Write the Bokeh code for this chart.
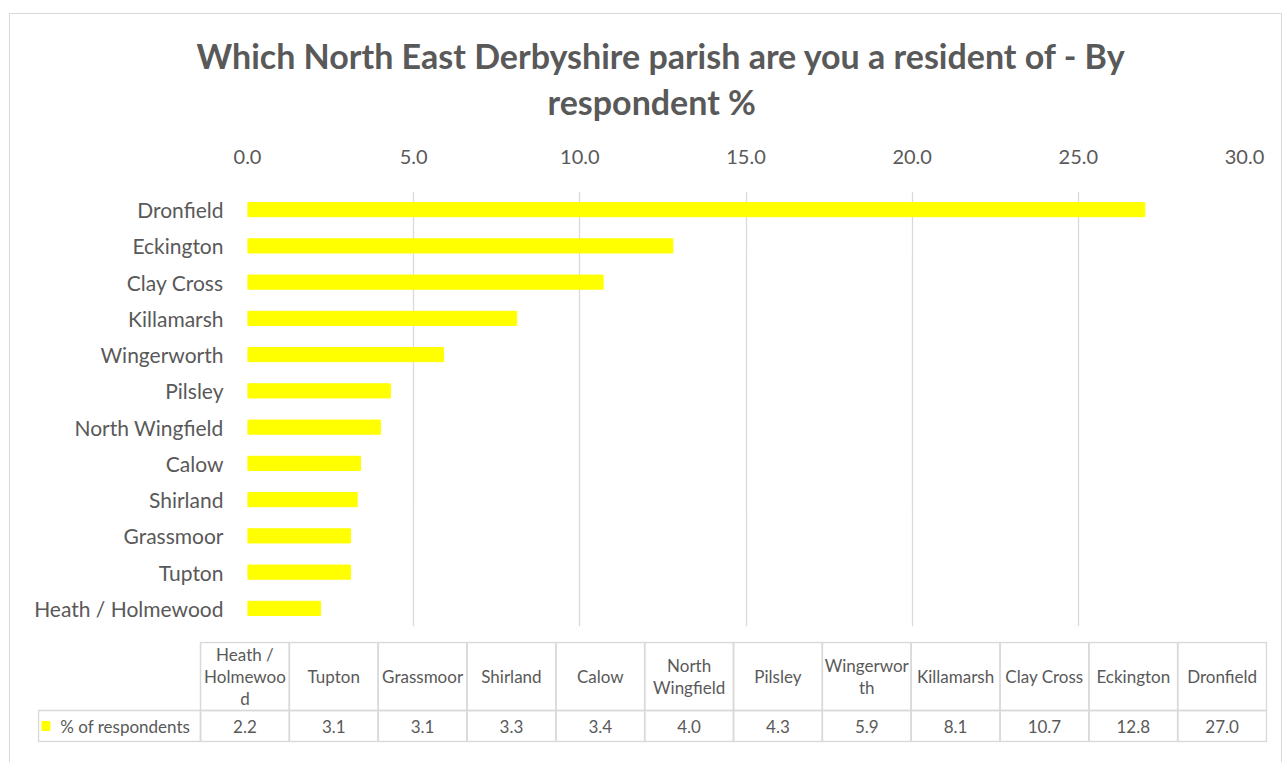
from bokeh.plotting import figure
from bokeh.models import FactorRange, Range1d, FixedTicker, NumeralTickFormatter, Title, ColumnDataSource
from bokeh.embed import file_html
from bokeh.resources import INLINE
from bokeh.core.properties import value

# ---- data ----
parishes = ["Heath / Holmewood", "Tupton", "Grassmoor", "Shirland", "Calow",
            "North Wingfield", "Pilsley", "Wingerworth", "Killamarsh",
            "Clay Cross", "Eckington", "Dronfield"]
pct = [2.2, 3.1, 3.1, 3.3, 3.4, 4.0, 4.3, 5.9, 8.1, 10.7, 12.8, 27.0]
table_headers = ["Heath /\nHolmewoo\nd", "Tupton", "Grassmoor", "Shirland", "Calow",
                 "North\nWingfield", "Pilsley", "Wingerwor\nth", "Killamarsh",
                 "Clay Cross", "Eckington", "Dronfield"]
series_name = "% of respondents"
x_ticks = [0, 5, 10, 15, 20, 25, 30]
title_line1 = "Which North East Derbyshire parish are you a resident of - By"
title_line2 = "respondent %"

FONT = "Lato"
GREY = "#595959"
GRID = "#d9d9d9"
YELLOW = "#FFFF00"
BORDER = "1px solid #d9d9d9"

# ---- main bar chart ----
p = figure(width=1273, height=617, y_range=FactorRange(*parishes),
           x_range=Range1d(0, 30), x_axis_location="above",
           output_backend="svg", toolbar_location=None,
           min_border_left=237, min_border_right=39,
           min_border_top=177, min_border_bottom=5,
           margin=(13, 0, 0, 9),
           styles={"border-top": BORDER, "border-left": BORDER,
                   "border-right": BORDER})
p.outline_line_color = None
p.background_fill_color = "white"
p.border_fill_color = "white"

p.hbar(y=parishes, right=pct, height=0.39, left=0, color=YELLOW)

p.xaxis.ticker = FixedTicker(ticks=x_ticks)
p.xaxis.formatter = NumeralTickFormatter(format="0.0")
for ax in (p.xaxis, p.yaxis):
    ax.axis_line_color = None
    ax.major_tick_line_color = None
    ax.minor_tick_line_color = None
    ax.major_label_text_color = GREY
    ax.major_label_text_font = FONT
p.xaxis.major_label_text_font_size = "20px"
p.yaxis.major_label_text_font_size = "21px"
p.xaxis.major_label_standoff = 22
p.yaxis.major_label_standoff = 18
p.xgrid.grid_line_color = GRID
p.xgrid.grid_line_width = 1.3
p.ygrid.grid_line_color = None

t2 = Title(text=title_line2, align="left", offset=300, text_font=FONT,
           text_font_size="34px", text_font_style="bold", text_color=GREY,
           standoff=50)
t1 = Title(text=title_line1, align="left", offset=-51, text_font=FONT,
           text_font_size="34px", text_font_style="bold", text_color=GREY,
           standoff=-44)
p.add_layout(t2, "above")
p.add_layout(t1, "above")

# ---- data table ----
n = len(parishes)
q = figure(width=1273, height=140, x_range=Range1d(-1.835, 12.011),
           y_range=Range1d(-1, 100), output_backend="svg", toolbar_location=None,
           min_border_left=27, min_border_right=16, min_border_top=11,
           min_border_bottom=28,
           margin=(0, 0, 0, 9),
           styles={"border-left": BORDER, "border-right": BORDER})
q.outline_line_color = None
q.axis.visible = False
q.grid.visible = False
q.border_fill_color = "white"

idx = list(range(n))
src = ColumnDataSource(dict(
    l=[i for i in idx], r=[i + 1 for i in idx],
    xc=[i + 0.5 for i in idx], head=table_headers,
    val=[f"{v:.1f}" for v in pct]))
# header cells
q.quad(left="l", right="r", bottom=31, top=99, source=src,
       fill_color=None, line_color=GRID, line_width=1.5)
# value cells
q.quad(left="l", right="r", bottom=0, top=31, source=src,
       fill_color=None, line_color=GRID, line_width=1.5)
# legend cell
q.quad(left=[-1.824], right=[0], bottom=[0], top=[31],
       fill_color=None, line_color=GRID, line_width=1.5)
q.text(x="xc", y=65, text="head", source=src, text_align="center",
       text_baseline="middle", text_font=value(FONT), text_font_size="17px",
       text_color=GREY, text_line_height=1.05)
q.text(x="xc", y=15.5, text="val", source=src, text_align="center",
       text_baseline="middle", text_font=value(FONT), text_font_size="17px",
       text_color=GREY)
q.rect(x=[-1.74], y=[15.5], width=8, height=9, width_units="screen",
       height_units="screen", color=YELLOW)
q.text(x=[-1.578], y=[15.5], text=[series_name], text_align="left",
       text_baseline="middle", text_font=value(FONT), text_font_size="17px",
       text_color=GREY)

open("out.html", "w").write(file_html([p, q], INLINE))
